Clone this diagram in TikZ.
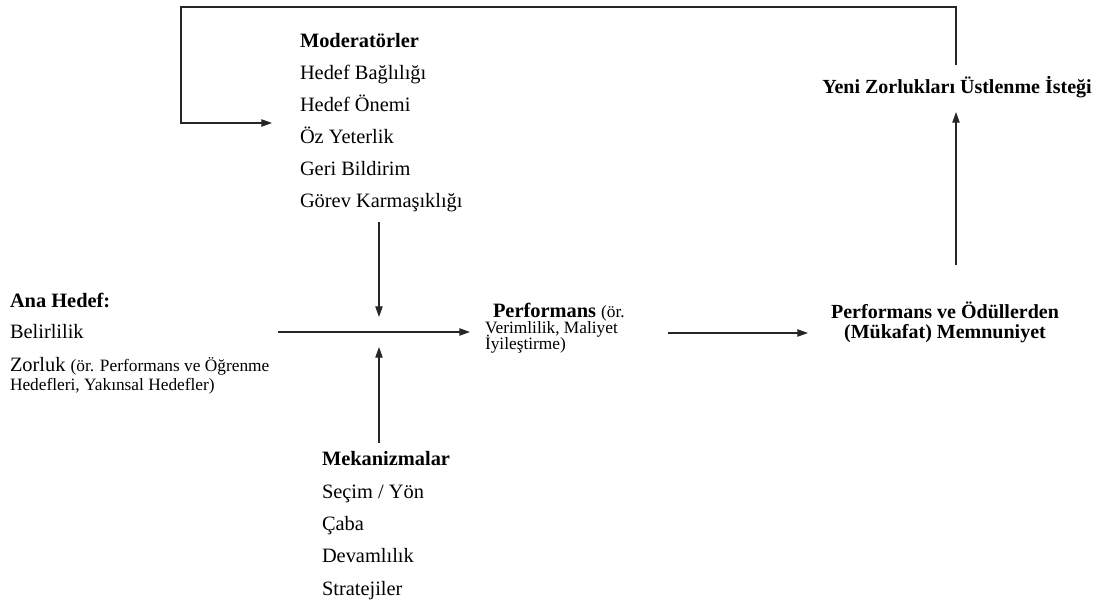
\documentclass[tikz,border=0pt]{standalone}
\usepackage{fontspec}
\setmainfont{Liberation Serif}
\newfontfamily\timesfam{Liberation Serif}
\usetikzlibrary{arrows.meta}
\begin{document}
\begin{tikzpicture}[x=0.75pt,y=-0.75pt,
  conn/.style={line width=0.9pt, draw=black!85},
  arr/.style={conn,-{Triangle[length=8pt,width=5.5pt]}},
  big/.style={inner sep=0pt, outer sep=0pt, anchor=base west, font=\timesfam\fontsize{15.3}{18}\selectfont},
  bighead/.style={big, font=\timesfam\fontsize{15.3}{18}\selectfont\bfseries},
  small/.style={inner sep=0pt, outer sep=0pt, anchor=base west, font=\timesfam\fontsize{13}{15}\selectfont},
  ctrhead/.style={inner sep=0pt, outer sep=0pt, anchor=base, font=\timesfam\fontsize{15}{18}\selectfont\bfseries}
]
\useasboundingbox (0,0) rectangle (1117,603);

% Moderators block
\node[bighead] (mod0) at (300,47)  {Moderatörler};
\node[big]     (mod1) at (300,79)  {Hedef Bağlılığı};
\node[big]     (mod2) at (300,111) {Hedef Önemi};
\node[big]     (mod3) at (300,143) {Öz Yeterlik};
\node[big]     (mod4) at (300,175) {Geri Bildirim};
\node[big]     (mod5) at (300,207) {Görev Karmaşıklığı};

% Main goal block
\node[bighead] (goal0) at (10,307) {Ana Hedef:};
\node[big]     (goal1) at (10,338) {Belirlilik};
\node[big]     (goal2) at (10,371) {Zorluk {\fontsize{13}{15}\selectfont (ör. Performans ve Öğrenme}};
\node[small]   (goal3) at (10,390) {Hedefleri, Yakınsal Hedefler)};

% Mechanisms block
\node[bighead] (mech0) at (322,465) {Mekanizmalar};
\node[big]     (mech1) at (322,498) {Seçim / Yön};
\node[big]     (mech2) at (322,530) {Çaba};
\node[big]     (mech3) at (322,562) {Devamlılık};
\node[big]     (mech4) at (322,595) {Stratejiler};

% Performance block
\node[big]   (perf0) at (493,317) {\textbf{Performans} {\fontsize{13}{15}\selectfont (ör.}};
\node[small] (perf1) at (485,333) {Verimlilik, Maliyet};
\node[small] (perf2) at (485,349) {İyileştirme)};

% Satisfaction and new challenges
\node[ctrhead] (sat1) at (945,318) {Performans ve Ödüllerden};
\node[ctrhead] (sat2) at (945,338) {(Mükafat) Memnuniyet};
\node[ctrhead] (chal) at (957,93)  {Yeni Zorlukları Üstlenme İsteği};

% Connector end points
\coordinate (goalR)  at (278,332);
\coordinate (perfL)  at (470,332);
\coordinate (modB)   at (379,222);
\coordinate (modTip) at (379,317);
\coordinate (mechT)  at (379,443);
\coordinate (mechTip) at (379,347);
\coordinate (perfR)  at (668,333);
\coordinate (satL)   at (808,333);
\coordinate (satT)   at (956,265);
\coordinate (chalB)  at (956,112);
\coordinate (chalT)  at (956,65);
\coordinate (loopR)  at (956,7);
\coordinate (loopL)  at (181,7);
\coordinate (modIn)  at (181,123);
\coordinate (modTipL) at (272,123);

% Connectors
\draw[arr] (goalR) -- (perfL);
\draw[arr] (modB) -- (modTip);
\draw[arr] (mechT) -- (mechTip);
\draw[arr] (perfR) -- (satL);
\draw[arr] (satT) -- (chalB);
\draw[arr] (chalT) -- (loopR) -- (loopL) -- (modIn) -- (modTipL);
\end{tikzpicture}
\end{document}
